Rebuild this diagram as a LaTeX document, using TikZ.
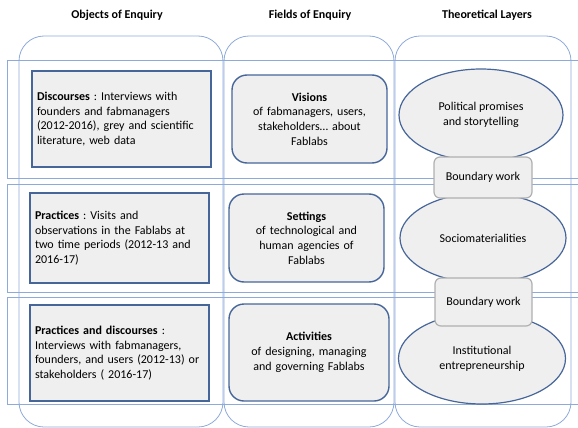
\documentclass[tikz,border=0pt]{standalone}
\usepackage{fontspec}
\setmainfont{Carlito}
\usetikzlibrary{shapes.geometric,positioning}
\definecolor{MyLine}{HTML}{8EAADB}
\definecolor{MyBorder}{HTML}{46669A}
\definecolor{MyFill}{HTML}{EFEFEF}
\definecolor{MyGrey}{HTML}{B0B0B0}
\frenchspacing
\tikzset{%
  column/.style={rectangle, draw=MyLine, rounded corners=25pt, line width=0.8pt, inner sep=0pt},
  band/.style={rectangle, draw=MyLine, line width=0.8pt, inner sep=0pt},
  header/.style={font=\fontsize{12}{14.7}\selectfont\bfseries},
  object/.style={rectangle, draw=MyBorder, fill=MyFill, line width=1.4pt, text width=169pt, inner xsep=5pt, align=left},
  field/.style={rectangle, rounded corners=15pt, draw=MyBorder, fill=MyFill, line width=1.4pt, text width=145pt, inner xsep=5pt, align=center},
  layer/.style={ellipse, draw=MyBorder, fill=MyFill, line width=1.2pt, inner sep=0pt, align=center},
  boundary/.style={rectangle, rounded corners=6pt, draw=MyGrey, fill=MyFill, line width=1.2pt, inner sep=0pt, align=center}
}
\begin{document}
\begin{tikzpicture}[x=1pt, y=-1pt, font=\fontsize{12}{14.7}\selectfont]
 \useasboundingbox (0,0) rectangle (578,428);
 \clip (0,0) rectangle (578,428);

 % headers
 \node[header] (h1) at (117,15) {Objects of Enquiry};
 \node[header] (h2) at (310,15) {Fields of Enquiry};
 \node[header] (h3) at (487,15) {Theoretical Layers};

 % rows and columns
 \node[band, minimum width=613pt, minimum height=118pt] (r1) at (313.5,119) {};
 \node[band, minimum width=613pt, minimum height=108pt] (r2) at (313.5,238) {};
 \node[band, minimum width=613pt, minimum height=107pt] (r3) at (313.5,350.5) {};

 \node[column, minimum width=204pt, minimum height=391pt] (c1) at (121,231.5) {};
 \node[column, minimum width=170pt, minimum height=391pt] (c2) at (309,231.5) {};
 \node[column, minimum width=176pt, minimum height=391pt] (c3) at (483,231.5) {};

 % objects of enquiry
 \node[object, minimum height=96pt] (o1) at (121.5,119) {\textbf{Discourses} : Interviews with\\founders and fabmanagers\\(2012-2016), grey and scientific\\literature, web data};
 \node[object, minimum height=90pt] (o2) at (119.5,238) {\textbf{Practices} : Visits and\\observations in the Fablabs at\\two time periods (2012-13 and\\2016-17)};
 \node[object, minimum height=96pt] (o3) at (119.5,353) {\textbf{Practices and discourses} :\\Interviews with fabmanagers,\\founders, and users (2012-13) or\\stakeholders ( 2016-17)};

 % fields of enquiry
 \node[field, minimum height=88pt] (f1) at (309.5,119) {\textbf{Visions}\\of fabmanagers, users,\\stakeholders… about\\Fablabs};
 \node[field, minimum height=88pt] (f2) at (306.5,238) {\textbf{Settings}\\of technological and\\human agencies of\\Fablabs};
 \node[field, minimum height=97pt, minimum width=160pt] (f3) at (309,352.5) {\textbf{Activities}\\of designing, managing\\and governing Fablabs};

 % theoretical layers
 \node[layer, minimum width=164pt, minimum height=92pt] (t1) at (481,115) {Political promises\\and storytelling};
 \node[layer, minimum width=166pt, minimum height=90pt] (t2) at (483,238) {Sociomaterialities};
 \node[layer, minimum width=167pt, minimum height=91pt] (t3) at (482,358.5) {Institutional\\entrepreneurship};

 \node[boundary, minimum width=98pt, minimum height=41pt] (b1) at (483,177.5) {Boundary work};
 \node[boundary, minimum width=97pt, minimum height=48pt] (b2) at (483.5,302) {Boundary work};

\end{tikzpicture}
\end{document}
